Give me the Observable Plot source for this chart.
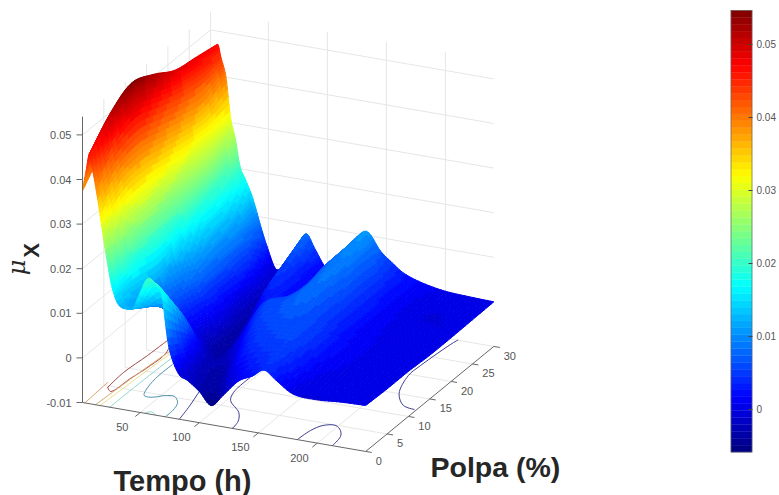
<!DOCTYPE html>
<html><head><meta charset="utf-8">
<script src="https://cdn.jsdelivr.net/npm/d3@7"></script>
<script src="https://cdn.jsdelivr.net/npm/@observablehq/plot@0.6"></script>
<style>html,body{margin:0;background:#fff}svg{display:block}</style>
</head><body><div id="chart"></div>
<script>
const tNodes=[1,4,7,10,14,18,22,26,31,37,44,50,56,62,68,74,82,90,100,110,120,133,145,155,165,180,200,220,241];
const pRows=[0,5,10,15,20,25,30];
const mu_p0 =[.0375,.042,.046,.042,.036,.029,.0225,.017,.0135,.0127,.0133,.017,.0203,.0197,.0175,.006,.0003,-.001,-.003,-.0057,-.003,.0008,.0025,.0043,.0025,0,-.0003,.0001,.0003];
const mu_p5 =[.043,.048,.0512,.047,.040,.033,.0255,.019,.012,.0095,.0097,.0099,.0099,.0098,.0085,.0025,-.0015,-.003,-.0035,-.0005,.003,.0045,.005,.0052,.0038,.0012,.0001,.0001,.0001];
const mu_p10=[.0455,.051,.054,.049,.041,.0335,.026,.0185,.0105,.0075,.0055,.003,.0015,0,-.0015,-.003,-.0035,-.002,.001,.0045,.0055,.006,.006,.0055,.0042,.002,.0006,.0002,.0001];
const mu_p15=[.043,.048,.052,.047,.0395,.0325,.0255,.019,.0135,.010,.0075,.0045,.0025,.0005,-.002,-.0035,-.0025,.001,.005,.006,.0065,.0078,.0065,.0052,.0036,.0015,.0005,-.0001,-.0002];
const mu_p20=[.040,.045,.049,.045,.038,.0315,.025,.0195,.0155,.0115,.008,.0045,.002,-.001,-.0028,-.0025,.0025,.0035,.0025,.0035,.0065,.0085,.007,.0055,.0035,.0015,.0001,-.0002,-.0002];
const mu_p25=[.039,.044,.048,.044,.037,.031,.025,.020,.016,.012,.008,.005,.0015,-.001,-.0018,.0005,.0055,.004,.002,.004,.0075,.0095,.0075,.0055,.0035,.0013,-.0001,-.0002,-.0001];
const mu_p30=[.040,.044,.047,.044,.040,.031,.0265,.0205,.0175,.0137,.0075,.0028,-.001,-.0005,.002,.0045,.008,.0047,.001,.0035,.0075,.0109,.007,.0048,.0029,.0015,.0005,.0002,0];
const muGrid=[mu_p0,mu_p5,mu_p10,mu_p15,mu_p20,mu_p25,mu_p30];

const tTicks=[50,100,150,200];
const pTicks=[0,5,10,15,20,25,30];
const zTicks=[-0.01,0,0.01,0.02,0.03,0.04,0.05];
const barTicks=[0,0.01,0.02,0.03,0.04,0.05];

const c50={level:.05,t:[5.7,4.1,6.4,7.3,8.5,17.3,17,14,11.2,5.7],p:[4.6,8.75,13.7,17.2,19,15,11.5,7.6,3.74,4.6]};
const c40a={level:.04,t:[3,1.5],p:[0,5.7]};
const c40b={level:.04,t:[12,18,22],p:[0,15,19]};
const c30={level:.03,t:[16,21,25],p:[0,15,19]};
const c20={level:.02,t:[24,25.5,28],p:[0,14,19]};
const c20b={level:.02,t:[54,57.4,63.5],p:[.2,.6,0]};
const c10={level:.01,t:[31.5,31.6,35,38,44,53,60,67.5,71,71],p:[12.6,8.6,5.4,4.2,4,5,5.2,3.9,1.8,0]};
const c0a={level:0,t:[83,79.5,73],p:[0,3.1,7.6]};
const c0b={level:0,t:[128,126,119,103,98,97],p:[0,1.9,4,6.5,8.6,12.7]};
const c0c={level:0,t:[183,184.5,189,198,205.5,210.6,212.7],p:[0,2.7,4.4,4.9,3.9,2.5,0]};
const c0d={level:0,t:[239,228,215,206,206,209.5,210.5],p:[11.9,12.4,15,19.7,22.5,29.3,30]};
const contourLines=[c50,c40a,c40b,c30,c20,c20b,c10,c0a,c0b,c0c,c0d];
const contourLevels=[0,.01,.02,.03,.04,.05];
const contourColors=["#3d3d90","#4f93ab","#8fd8d0","#ebe08c","#d8a870","#a04a4a"];

const muMin=-0.0059, muMax=0.0546, floorZ=-0.01, wallTop=0.0541, tMin=1, tMax=241, pMax=30;
const jetStops=["#00007f","#0000ff","#00ffff","#ffff00","#ff0000","#7f0000"];
const jetPos=[0,.125,.375,.625,.875,1];
const font="Liberation Sans, Arial, sans-serif";

// orthographic view of the (t, p, mu) box
const sx=(t,p)=>82+1.18*(t-1)+4.27*p;
const sy=(t,p,z)=>402+.204*(t-1)-3.5*p-4460*(z+.01);
const barY=z=>44+(0.05-z)*7300;

const jet=d3.scaleLinear().domain(jetPos).range(jetStops).interpolate(d3.interpolateRgb);
const jetRange=d3.range(64).map(i=>jet((i+.5)/64));
const thresholds=d3.range(1,64).map(i=>muMin+(muMax-muMin)*i/64);

// smooth shading mesh over the read grid
const cr=(a,b,c,d,s)=>.5*(2*b+(c-a)*s+(2*a-5*b+4*c-d)*s*s+(3*b-a-3*c+d)*s*s*s);
const at=(arr,u)=>{const i=Math.min(Math.floor(u),arr.length-2),s=u-i,g=k=>arr[Math.max(0,Math.min(arr.length-1,k))];return cr(g(i-1),g(i),g(i+1),g(i+2),s);};
const SUB=6;
const us=d3.range(0,(tNodes.length-1)*SUB+1).map(i=>i/SUB);
const vs=d3.range(0,(pRows.length-1)*SUB+1).map(i=>i/SUB);
const surf=vs.map(v=>us.map(u=>{
  const col=muGrid.map(r=>at(r,u));
  return {t:at(tNodes,u),p:at(pRows,v),z:at(col,v)};
}));
const quads=[];let qid=0;
for(let j=vs.length-2;j>=0;j--){
  for(let i=0;i<us.length-1;i++){
    const c=[surf[j][i],surf[j][i+1],surf[j+1][i+1],surf[j+1][i]];
    const m=d3.mean(c,d=>d.z);
    for(const d of c) quads.push({id:qid,x:sx(d.t,d.p),y:sy(d.t,d.p,d.z),mu:m});
    qid++;
  }
}

const seg=(a,b)=>({x1:sx(a[0],a[1]),y1:sy(a[0],a[1],a[2]),x2:sx(b[0],b[1]),y2:sy(b[0],b[1],b[2])});
const grid=[
  ...zTicks.slice(1).flatMap(z=>[seg([tMin,0,z],[tMin,pMax,z]),seg([tMin,pMax,z],[tMax,pMax,z])]),
  ...pTicks.slice(1).map(p=>seg([tMin,p,floorZ],[tMin,p,wallTop])),
  ...tTicks.map(t=>seg([t,pMax,floorZ],[t,pMax,wallTop])),
  ...tTicks.map(t=>seg([t,0,floorZ],[t,pMax,floorZ])),
  ...pTicks.slice(1).map(p=>seg([tMin,p,floorZ],[tMax,p,floorZ]))
];
const axes=[
  seg([tMin,0,floorZ],[tMin,0,wallTop]),
  seg([tMin,0,floorZ],[tMax,0,floorZ]),
  seg([tMax,0,floorZ],[tMax,pMax,floorZ])
];
const tickLinks=[
  ...zTicks.map(z=>{const x=sx(tMin,0),y=sy(tMin,0,z);return {x1:x-6,y1:y,x2:x,y2:y};}),
  ...tTicks.map(t=>{const x=sx(t,0),y=sy(t,0,floorZ);return {x1:x-5,y1:y+4,x2:x,y2:y};}),
  ...pTicks.map(p=>{const x=sx(tMax,p),y=sy(tMax,p,floorZ);return {x1:x,y1:y,x2:x+6,y2:y+1};})
];
const zLabels=zTicks.map(z=>({x:71,y:sy(tMin,0,z)+.5,s:String(z)}));
const otherLabels=[
  ...tTicks.map(t=>({x:sx(t,0)-18,y:sy(t,0,floorZ)+15,s:String(t)})),
  ...pTicks.map(p=>({x:sx(tMax,p)+(p<10?13:16),y:sy(tMax,p,floorZ)+10,s:String(p)}))
];
const contourRows=contourLines.flatMap((c,k)=>c.t.map((t,i)=>({k,color:contourColors[contourLevels.indexOf(c.level)],x:sx(t,c.p[i]),y:sy(t,c.p[i],floorZ)})));

const levels=d3.range(64).map(i=>{const a=muMin+(muMax-muMin)*i/64,b=muMin+(muMax-muMin)*(i+1)/64;return {y1:barY(a),y2:barY(b),mu:(a+b)/2};});

const chart=Plot.plot({
  width:779,height:495,marginTop:0,marginRight:0,marginBottom:0,marginLeft:0,
  style:{background:"#fff"},
  x:{domain:[0,779],range:[0,779],axis:null},
  y:{domain:[0,495],range:[0,495],axis:null},
  color:{type:"threshold",domain:thresholds,range:jetRange},
  marks:[
    Plot.link(grid,{x1:"x1",y1:"y1",x2:"x2",y2:"y2",stroke:"#e6e6e6",strokeWidth:1}),
    Plot.line(contourRows,{x:"x",y:"y",z:"k",stroke:{value:"color",scale:null},strokeWidth:1,curve:"catmull-rom"}),
    Plot.line(quads,{x:"x",y:"y",z:"id",fill:"mu",stroke:"mu",strokeWidth:1,curve:"linear-closed"}),
    Plot.link(axes,{x1:"x1",y1:"y1",x2:"x2",y2:"y2",stroke:"#666",strokeWidth:1}),
    Plot.link(tickLinks,{x1:"x1",y1:"y1",x2:"x2",y2:"y2",stroke:"#666",strokeWidth:1}),
    Plot.text(zLabels,{x:"x",y:"y",text:"s",textAnchor:"end",fontSize:11,fontFamily:font,fill:"#555"}),
    Plot.text(otherLabels,{x:"x",y:"y",text:"s",textAnchor:"middle",fontSize:11,fontFamily:font,fill:"#555"}),
    Plot.rect(levels,{x1:()=>731,x2:()=>752,y1:"y1",y2:"y2",fill:"mu",stroke:"mu",strokeWidth:.3}),
    Plot.rect([0],{x1:()=>731,x2:()=>752,y1:()=>barY(muMin),y2:()=>barY(muMax),fill:"none",stroke:"#666",strokeWidth:.7}),
    Plot.link(barTicks,{x1:()=>748,x2:()=>752,y1:d=>barY(d),y2:d=>barY(d),stroke:"#444",strokeWidth:1}),
    Plot.text(barTicks,{x:()=>756,y:d=>barY(d)+.5,text:d=>String(d),textAnchor:"start",fontSize:10,fontFamily:font,fill:"#555"}),
    Plot.text(["Tempo (h)"],{x:()=>113,y:()=>490,text:d=>d,textAnchor:"start",lineAnchor:"bottom",fontSize:29,fontWeight:"bold",fontFamily:font,fill:"#262626"}),
    Plot.text(["Polpa (%)"],{x:()=>430,y:()=>476,text:d=>d,textAnchor:"start",lineAnchor:"bottom",fontSize:28.5,fontWeight:"bold",fontFamily:font,fill:"#262626"}),
    Plot.text(["μ"],{x:()=>17,y:()=>267,text:d=>d,rotate:-90,fontSize:24,fontStyle:"italic",fontFamily:"DejaVu Serif, serif",fill:"#262626"}),
    Plot.text(["X"],{x:()=>31,y:()=>250,text:d=>d,rotate:-90,fontSize:22,fontWeight:"bold",fontFamily:font,fill:"#262626"})
  ]
});
document.getElementById("chart").appendChild(chart);
</script></body></html>
